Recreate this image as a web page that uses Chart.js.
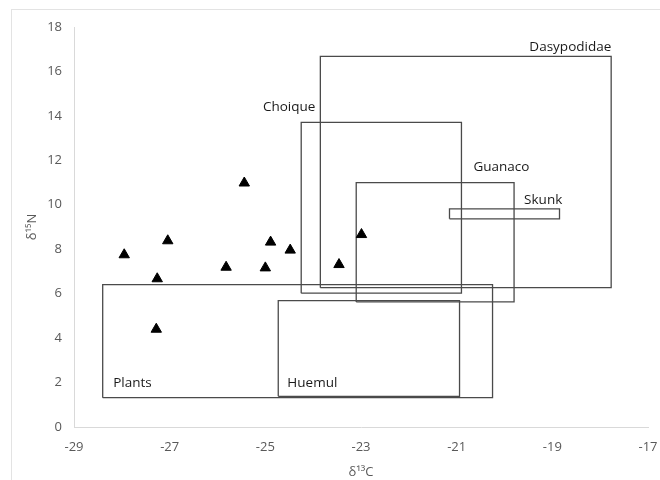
<!DOCTYPE html>
<html>
<head>
<meta charset="utf-8">
<script src="https://cdn.jsdelivr.net/npm/chart.js@4.4.1/dist/chart.umd.min.js"></script>
<style>
  html, body { margin: 0; padding: 0; background: #fff; }
  #wrap { position: relative; width: 660px; height: 480px; }
  #frame { position: absolute; left: 11px; top: 9px; width: 700px; height: 520px; border: 1px solid #e3e3e3; box-sizing: border-box; pointer-events: none; }
  canvas { position: absolute; left: 0; top: 0; }
</style>
</head>
<body>
<div id="wrap">
  <canvas id="c" width="660" height="480"></canvas>
  <div id="frame"></div>
</div>
<script>
// Sample values (triangles)
const sampleC = [-27.95, -27.04, -27.26, -27.28, -25.44, -25.82, -24.89, -25.00, -24.48, -23.46, -22.99];
const sampleN = [7.75, 8.38, 6.67, 4.40, 10.98, 7.19, 8.32, 7.16, 7.96, 7.31, 8.66];

// Group ranges (boxes)
const groupNames = ['Plants', 'Huemul', 'Choique', 'Dasypodidae', 'Guanaco', 'Skunk'];
const groupCmin = [-28.40, -24.73, -24.25, -23.85, -23.10, -21.15];
const groupCmax = [-20.25, -20.94, -20.90, -17.77, -19.80, -18.85];
const groupNmin = [1.32, 1.38, 6.02, 6.27, 5.63, 9.37];
const groupNmax = [6.41, 5.69, 13.71, 16.68, 11.00, 9.82];

// Axis ticks
const xTicks = [-29, -27, -25, -23, -21, -19, -17];
const yTicks = [0, 2, 4, 6, 8, 10, 12, 14, 16, 18];

// Label anchor (data coordinates, left edge / vertical middle)
const labelC = [-28.18, -24.54, -25.05, -19.48, -20.65, -19.59];
const labelN = [1.98, 1.98, 14.38, 17.10, 11.68, 10.20];

const boxDatasets = groupNames.map((name, i) => ({
  type: 'line',
  label: name,
  data: [
    {x: groupCmin[i], y: groupNmin[i]},
    {x: groupCmax[i], y: groupNmin[i]},
    {x: groupCmax[i], y: groupNmax[i]},
    {x: groupCmin[i], y: groupNmax[i]},
    {x: groupCmin[i], y: groupNmin[i]}
  ],
  borderColor: '#4a4a4a',
  borderWidth: 1.3,
  pointRadius: 0,
  fill: false,
  tension: 0,
  order: 2
}));

const labelPlugin = {
  id: 'groupLabels',
  afterDatasetsDraw(chart) {
    const ctx = chart.ctx;
    const xs = chart.scales.x, ys = chart.scales.y;
    ctx.save();
    ctx.font = '13.5px "Open Sans", sans-serif';
    ctx.fillStyle = '#1a1a1a';
    ctx.textAlign = 'left';
    ctx.textBaseline = 'middle';
    groupNames.forEach((name, i) => {
      ctx.fillText(name, xs.getPixelForValue(labelC[i]), ys.getPixelForValue(labelN[i]));
    });
    ctx.restore();
  }
};

new Chart(document.getElementById('c'), {
  type: 'scatter',
  data: {
    datasets: [
      {
        label: 'Samples',
        data: sampleC.map((c, i) => ({x: c, y: sampleN[i]})),
        pointStyle: 'triangle',
        pointRadius: 6,
        backgroundColor: '#000',
        borderColor: '#000',
        borderWidth: 1,
        order: 1
      },
      ...boxDatasets
    ]
  },
  options: {
    responsive: false,
    animation: false,
    layout: { padding: { left: 0, right: 12, top: 27, bottom: 0 } },
    plugins: { legend: { display: false }, tooltip: { enabled: false } },
    scales: {
      x: {
        type: 'linear',
        min: xTicks[0],
        max: xTicks[xTicks.length - 1],
        afterBuildTicks(scale) { scale.ticks = xTicks.map(v => ({value: v})); },
        afterFit(scale) { scale.height = 53; scale.paddingRight = 0; scale.paddingLeft = 0; },
        grid: { display: false, drawTicks: false },
        border: { display: true, color: '#d9d9d9', width: 1 },
        ticks: { color: '#595959', padding: 12, font: { family: '"Open Sans", sans-serif', size: 13 } },
        title: {
          display: true,
          text: 'δ¹³C',
          color: '#595959',
          padding: { top: 2, bottom: 0 },
          font: { family: '"Open Sans", sans-serif', size: 13 }
        }
      },
      y: {
        type: 'linear',
        min: yTicks[0],
        max: yTicks[yTicks.length - 1],
        afterBuildTicks(scale) { scale.ticks = yTicks.map(v => ({value: v})); },
        afterFit(scale) { scale.width = 74; scale.paddingTop = 0; scale.paddingBottom = 0; },
        grid: { display: false, drawTicks: false },
        border: { display: true, color: '#d9d9d9', width: 1 },
        ticks: { color: '#595959', padding: 12, font: { family: '"Open Sans", sans-serif', size: 13 } },
        title: {
          display: true,
          text: 'δ¹⁵N',
          color: '#595959',
          padding: { top: 24, bottom: 0 },
          font: { family: '"Open Sans", sans-serif', size: 13 }
        }
      }
    }
  },
  plugins: [labelPlugin]
});
</script>
</body>
</html>
